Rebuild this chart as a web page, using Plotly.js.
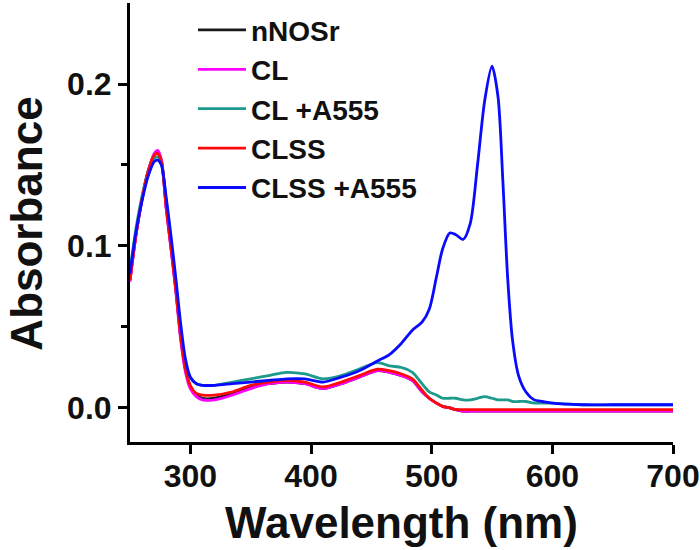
<!DOCTYPE html>
<html>
<head>
<meta charset="utf-8">
<script src="https://cdn.plot.ly/plotly-3.0.1.min.js"></script>
<style>
  body { margin: 0; background: #fff; }
  #graph { width: 700px; height: 550px; }
</style>
</head>
<body>
<div id="graph"></div>
<script>
// wavelength grid (nm), shared by all spectra
var wavelength = [250, 255, 260, 265, 270, 273, 276, 280, 284, 288, 292, 296, 300, 305, 310, 320,
  335, 350, 365, 380, 395, 410, 425, 440, 455, 465, 475, 484, 492, 498, 504, 509, 515, 520, 526,
  532, 538, 544, 550, 555, 559, 563, 567, 572, 578, 585, 592, 600, 625, 650, 675, 700];

var nNOSr = [0.079, 0.107, 0.129, 0.146, 0.156, 0.158, 0.153, 0.124, 0.099, 0.073, 0.044, 0.024, 0.013, 0.008, 0.006, 0.006,
  0.009, 0.013, 0.015, 0.016, 0.015, 0.012, 0.015, 0.019, 0.023, 0.022, 0.020, 0.017, 0.010, 0.006, 0.003, 0.001, 0.000, -0.001, -0.002,
  -0.002, -0.002, -0.002, -0.002, -0.002, -0.002, -0.002, -0.002, -0.002, -0.002, -0.002, -0.002, -0.002, -0.002, -0.002, -0.002, -0.002];

var cl = [0.078, 0.107, 0.129, 0.146, 0.157, 0.159, 0.153, 0.123, 0.098, 0.072, 0.042, 0.022, 0.012, 0.007, 0.005, 0.005,
  0.008, 0.012, 0.015, 0.016, 0.015, 0.012, 0.015, 0.019, 0.023, 0.022, 0.020, 0.017, 0.010, 0.006, 0.003, 0.001, 0.000, -0.001, -0.002,
  -0.002, -0.002, -0.002, -0.002, -0.002, -0.002, -0.002, -0.002, -0.002, -0.002, -0.002, -0.002, -0.002, -0.002, -0.002, -0.002, -0.002];

var clA555 = [0.085, 0.111, 0.131, 0.146, 0.154, 0.155, 0.151, 0.128, 0.102, 0.076, 0.047, 0.028, 0.019, 0.015, 0.014, 0.014,
  0.016, 0.018, 0.020, 0.022, 0.021, 0.018, 0.020, 0.024, 0.028, 0.026, 0.025, 0.022, 0.015, 0.010, 0.008, 0.006, 0.006, 0.006, 0.005,
  0.005, 0.006, 0.007, 0.006, 0.005, 0.005, 0.005, 0.004, 0.004, 0.004, 0.003, 0.003, 0.003, 0.002, 0.002, 0.002, 0.002];

var clss = [0.079, 0.107, 0.129, 0.146, 0.156, 0.157, 0.152, 0.124, 0.099, 0.073, 0.044, 0.024, 0.014, 0.009, 0.008, 0.008,
  0.010, 0.014, 0.016, 0.017, 0.016, 0.013, 0.016, 0.020, 0.024, 0.023, 0.021, 0.018, 0.011, 0.006, 0.003, 0.001, 0.000, -0.001, -0.001,
  -0.001, -0.001, -0.001, -0.001, -0.001, -0.001, -0.001, -0.001, -0.001, -0.001, -0.001, -0.001, -0.001, -0.001, -0.001, -0.001, -0.001];

var clssA555 = [0.083, 0.109, 0.128, 0.143, 0.152, 0.153, 0.150, 0.130, 0.106, 0.080, 0.052, 0.030, 0.019, 0.015, 0.014, 0.014,
  0.015, 0.016, 0.017, 0.018, 0.018, 0.016, 0.019, 0.023, 0.029, 0.033, 0.040, 0.048, 0.053, 0.061, 0.081, 0.098, 0.108, 0.107, 0.104,
  0.114, 0.150, 0.190, 0.211, 0.192, 0.140, 0.080, 0.042, 0.020, 0.010, 0.005, 0.004, 0.003, 0.002, 0.002, 0.002, 0.002];

var seriesNames = ["nNOSr", "CL", "CL +A555", "CLSS", "CLSS +A555"];
var seriesValues = [nNOSr, cl, clA555, clss, clssA555];
var seriesColors = ["#1a1a1a", "#ff00ff", "#1e9a8c", "#ff0a0a", "#0a0aff"];

var traces = [];
seriesNames.forEach((name, i) => {
  traces.push({
    type: "scatter",
    mode: "lines",
    name: name,
    x: wavelength,
    y: seriesValues[i],
    line: { color: seriesColors[i], width: 2.8, shape: "spline", smoothing: 0.8 },
  });
});

var boldFont = { family: "Liberation Sans, Arial, sans-serif", color: "#111", weight: "bold" };

var layout = {
  width: 700,
  height: 550,
  margin: { l: 130, r: 27, t: 3, b: 108 },
  paper_bgcolor: "#fff",
  plot_bgcolor: "#fff",
  showlegend: true,
  legend: {
    x: 0.116, y: 0.995, xanchor: "left", yanchor: "top",
    bgcolor: "rgba(0,0,0,0)",
    itemwidth: 48,
    font: Object.assign({}, boldFont, { size: 28 }),
  },
  xaxis: {
    range: [250, 700],
    tickvals: [300, 400, 500, 600, 700],
    showline: true, linewidth: 3, linecolor: "#000",
    ticks: "outside", ticklen: 9, tickwidth: 3, tickcolor: "#000",
    ticklabelstandoff: -5,
    showgrid: false, zeroline: false,
    tickfont: Object.assign({}, boldFont, { size: 32 }),
    title: { text: "Wavelength (nm)", font: Object.assign({}, boldFont, { size: 44 }), standoff: 14 },
  },
  yaxis: {
    range: [-0.021, 0.25],
    tickvals: [0, 0.1, 0.2],
    ticktext: ["0.0", "0.1", "0.2"],
    showline: true, linewidth: 3, linecolor: "#000",
    ticks: "outside", ticklen: 9, tickwidth: 3, tickcolor: "#000",
    minor: { tickvals: [0.05, 0.15], ticks: "outside", ticklen: 6, tickwidth: 3, tickcolor: "#000" },
    showgrid: false, zeroline: false,
    tickfont: Object.assign({}, boldFont, { size: 32 }),
  },
  // y title as a rotated annotation so it can sit near the left edge
  annotations: [{
    text: "Absorbance",
    xref: "paper", yref: "paper",
    x: -0.19, y: 0.497,
    xanchor: "center", yanchor: "middle",
    textangle: -90,
    showarrow: false,
    font: Object.assign({}, boldFont, { size: 44 }),
  }],
};

Plotly.newPlot("graph", traces, layout, { displayModeBar: false });
</script>
</body>
</html>
